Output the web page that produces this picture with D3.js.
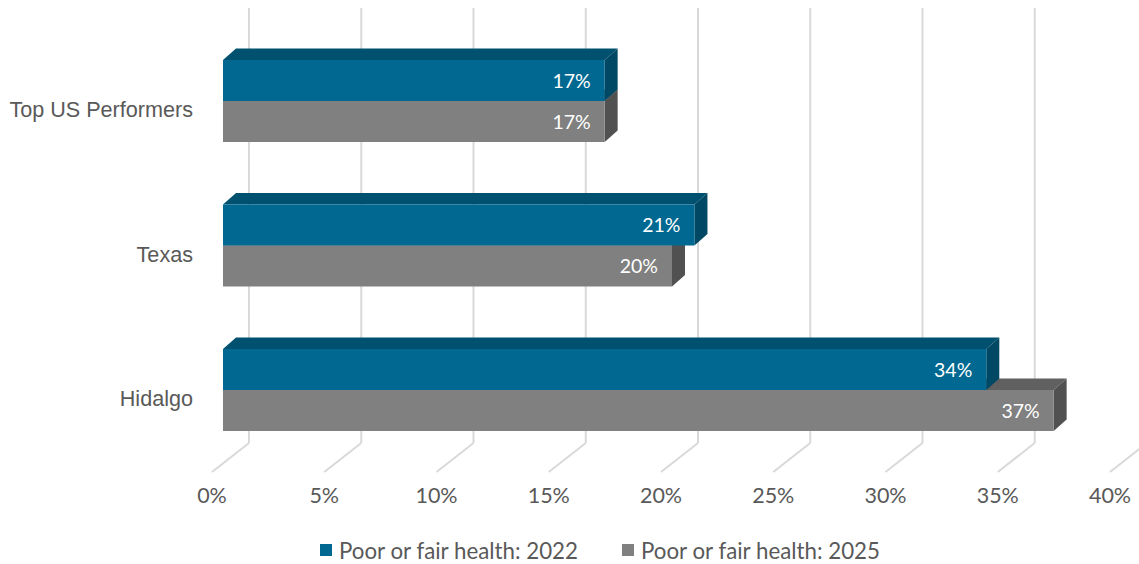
<!DOCTYPE html>
<html>
<head>
<meta charset="utf-8">
<script src="https://cdn.jsdelivr.net/npm/d3@7"></script>
<style>
  html, body { margin: 0; padding: 0; background: #fff; }
  svg { display: block; }
</style>
</head>
<body>
<svg id="chart" width="1139" height="564"></svg>
<script>
const categories = ["Top US Performers", "Texas", "Hidalgo"];
const seriesNames = ["Poor or fair health: 2022", "Poor or fair health: 2025"];
const values2022 = [17, 21, 34];
const values2025 = [17, 20, 37];
const valueLabels2022 = ["17%", "21%", "34%"];
const valueLabels2025 = ["17%", "20%", "37%"];
const tickValues = [0, 5, 10, 15, 20, 25, 30, 35, 40];
const tickLabels = ["0%", "5%", "10%", "15%", "20%", "25%", "30%", "35%", "40%"];

const colors = [
  { front: "#006891", top: "#00506f", side: "#004864" },
  { front: "#808080", top: "#606060", side: "#515151" }
];

const svg = d3.select("#chart");

// scales
const x = d3.scaleLinear().domain([0, 40]).range([223, 223 + 40 * 22.45]);
const y = d3.scaleBand().domain(categories).range([28.75, 462.25]).paddingInner(0).paddingOuter(0);
const ySub = d3.scaleBand().domain(seriesNames).range([y.bandwidth() / 2 - 41, y.bandwidth() / 2 + 41]);

// 3D offsets
const bdx = 13, bdy = -11.5;      // bar depth
const gBackDx = 26;               // back wall offset from front 0
const floorBackY = 443, floorFrontY = 472, floorDx = 37;

// gridlines (back wall) + floor diagonals
const grid = svg.append("g");
tickValues.forEach(v => {
  const xb = x(v) + gBackDx;
  grid.append("line").attr("x1", xb).attr("x2", xb).attr("y1", 8).attr("y2", floorBackY)
    .attr("stroke", "#d9d9d9").attr("stroke-width", 2);
  grid.append("line").attr("x1", xb).attr("x2", xb - floorDx).attr("y1", floorBackY).attr("y2", floorFrontY)
    .attr("stroke", "#d9d9d9").attr("stroke-width", 2);
});

// tick labels
svg.append("g").selectAll("text").data(tickValues).join("text")
  .attr("x", v => x(v) + gBackDx - floorDx)
  .attr("y", 503)
  .attr("text-anchor", "middle")
  .attr("font-family", "Lato, 'Open Sans', sans-serif")
  .attr("font-size", 21.5)
  .attr("fill", "#595959")
  .text((v, i) => tickLabels[i]);

// category labels
svg.append("g").selectAll("text").data(categories).join("text")
  .attr("x", 193)
  .attr("y", c => y(c) + y.bandwidth() / 2 + 16)
  .attr("text-anchor", "end")
  .attr("font-family", "'Liberation Sans', Arial, sans-serif")
  .attr("font-size", 21.6)
  .attr("fill", "#595959")
  .text(c => c);

// bars: draw 2025 (lower) first, then 2022 on top
const series = [
  { name: seriesNames[1], vals: values2025, labels: valueLabels2025, col: colors[1] },
  { name: seriesNames[0], vals: values2022, labels: valueLabels2022, col: colors[0] }
];
const barsG = svg.append("g");
series.forEach(s => {
  categories.forEach((c, i) => {
    const x0 = x(0), x1 = x(s.vals[i]);
    const y0 = y(c) + ySub(s.name), h = ySub.bandwidth();
    const g = barsG.append("g");
    g.append("path")
      .attr("d", `M${x0},${y0} L${x0 + bdx},${y0 + bdy} L${x1 + bdx},${y0 + bdy} L${x1},${y0} Z`)
      .attr("fill", s.col.top);
    g.append("path")
      .attr("d", `M${x1},${y0} L${x1 + bdx},${y0 + bdy} L${x1 + bdx},${y0 + h + bdy} L${x1},${y0 + h} Z`)
      .attr("fill", s.col.side);
    g.append("rect").attr("x", x0).attr("y", y0).attr("width", x1 - x0).attr("height", h)
      .attr("fill", s.col.front);
    g.append("text")
      .attr("x", x1 - 14)
      .attr("y", y0 + h / 2 + 7)
      .attr("text-anchor", "end")
      .attr("font-family", "Lato, 'Open Sans', sans-serif")
      .attr("font-size", 19.5)
      .attr("fill", "#ffffff")
      .text(s.labels[i]);
  });
});

// legend
const legend = svg.append("g");
const legendItems = [
  { name: seriesNames[0], color: colors[0].front, x: 320 },
  { name: seriesNames[1], color: colors[1].front, x: 622 }
];
legendItems.forEach(d => {
  legend.append("rect").attr("x", d.x).attr("y", 544).attr("width", 12).attr("height", 12).attr("fill", d.color);
  legend.append("text").attr("x", d.x + 19).attr("y", 558.5)
    .attr("font-family", "Lato, 'Open Sans', sans-serif")
    .attr("font-size", 22.3)
    .attr("fill", "#595959")
    .text(d.name);
});
</script>
</body>
</html>
